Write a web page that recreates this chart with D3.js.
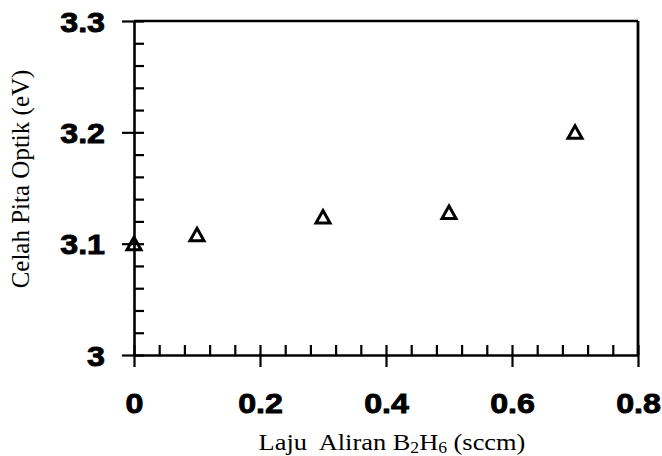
<!DOCTYPE html>
<html>
<head>
<meta charset="utf-8">
<script src="https://cdn.jsdelivr.net/npm/d3@7"></script>
<style>
    html, body { margin: 0; padding: 0; background: #fff; }
    svg { display: block; }
</style>
</head>
<body>
<script>
// data
const flowRates = [0, 0.1, 0.3, 0.5, 0.7];          // sccm B2H6
const bandGaps = [3.1, 3.108, 3.124, 3.128, 3.2];    // eV
const xMajorTicks = [0, 0.2, 0.4, 0.6, 0.8];
const yMajorTicks = [3, 3.1, 3.2, 3.3];
const xTickLabels = ['0', '0.2', '0.4', '0.6', '0.8'];
const yTickLabels = ['3', '3.1', '3.2', '3.3'];

const width = 662;
const height = 456;
const marginLeft = 134;
const marginRight = 24;
const marginTop = 21;
const marginBottom = 101;

const svg = d3.select('body')
    .append('svg')
    .attr('width', width)
    .attr('height', height);

const xScale = d3.scaleLinear()
    .domain([0, 0.8])
    .range([marginLeft, width - marginRight]);

const yScale = d3.scaleLinear()
    .domain([3, 3.3])
    .range([height - marginBottom, marginTop]);

const labelFont = '"Liberation Sans", Arial, sans-serif';
const titleFont = '"Liberation Serif", "Times New Roman", serif';
const stretch = 1.15;

//----------------------------------------------------------------------------
// minor ticks pointing inward
const xMinor = d3.range(0, 0.8001, 0.04);
const yMinor = d3.range(3, 3.3001, 0.02);

svg.append('g')
    .attr('transform', `translate(0, ${yScale(3)})`)
    .call(d3.axisTop(xScale).tickValues(xMinor).tickSize(10).tickSizeOuter(0).tickFormat(''))
    .call(g => g.select('.domain').remove());

svg.append('g')
    .attr('transform', `translate(${xScale(0)}, 0)`)
    .call(d3.axisRight(yScale).tickValues(yMinor).tickSize(10).tickSizeOuter(0).tickFormat(''))
    .call(g => g.select('.domain').remove());

// major ticks with labels, outward
const xAxis = svg.append('g')
    .attr('transform', `translate(0, ${yScale(3)})`)
    .call(d3.axisBottom(xScale)
        .tickValues(xMajorTicks)
        .tickSize(12)
        .tickSizeOuter(0)
        .tickFormat((d, i) => xTickLabels[i]));

xAxis.selectAll('text')
    .attr('y', 38)
    .attr('dy', '0.71em')
    .attr('transform', `scale(${stretch},1)`);

const yAxis = svg.append('g')
    .attr('transform', `translate(${xScale(0)}, 0)`)
    .call(d3.axisLeft(yScale)
        .tickValues(yMajorTicks)
        .tickSize(12)
        .tickSizeOuter(0)
        .tickFormat((d, i) => yTickLabels[i]));

yAxis.selectAll('text')
    .attr('x', -29 / stretch)
    .attr('dy', '0.36em')
    .attr('transform', `scale(${stretch},1)`);

svg.selectAll('.tick text')
    .style('font-family', labelFont)
    .style('font-weight', 'bold')
    .style('font-size', '28px')
    .attr('fill', '#000')
    .attr('stroke', '#000')
    .attr('stroke-width', 0.9);

svg.selectAll('.tick line')
    .attr('stroke', '#000')
    .attr('stroke-width', 2.2);

svg.selectAll('.domain')
    .attr('stroke', '#000')
    .attr('stroke-width', 2.6);

// frame on top and right
svg.append('line')
    .attr('x1', xScale(0)).attr('x2', xScale(0.8))
    .attr('y1', yScale(3.3)).attr('y2', yScale(3.3))
    .attr('stroke', '#000').attr('stroke-width', 2.4);

svg.append('line')
    .attr('x1', xScale(0.8)).attr('x2', xScale(0.8))
    .attr('y1', yScale(3.3)).attr('y2', yScale(3))
    .attr('stroke', '#000').attr('stroke-width', 2.8);

//----------------------------------------------------------------------------
// points (open triangles)
const points = flowRates.map((x, i) => ({ x, y: bandGaps[i] }));

svg.append('g')
    .selectAll('path')
    .data(points)
    .join('path')
    .attr('transform', d => `translate(${xScale(d.x)}, ${yScale(d.y)})`)
    .attr('d', 'M0,-6.5L7,6L-7,6Z')
    .attr('fill', 'none')
    .attr('stroke', '#000')
    .attr('stroke-width', 3)
    .attr('stroke-linejoin', 'miter');

//----------------------------------------------------------------------------
// axis titles
const xTitle = svg.append('text')
    .attr('transform', 'translate(392, 450) scale(1.1,1)')
    .attr('text-anchor', 'middle')
    .style('font-family', titleFont)
    .style('font-size', '24px')
    .style('white-space', 'pre')
    .attr('fill', '#000');

xTitle.append('tspan').text('Laju  Aliran B');
xTitle.append('tspan').attr('dy', 3).style('font-size', '16px').text('2');
xTitle.append('tspan').attr('dy', -3).text('H');
xTitle.append('tspan').attr('dy', 3).style('font-size', '16px').text('6');
xTitle.append('tspan').attr('dy', -3).text(' (sccm)');

svg.append('text')
    .attr('transform', `translate(29, 179) rotate(-90)`)
    .attr('text-anchor', 'middle')
    .style('font-family', titleFont)
    .style('font-size', '25px')
    .attr('fill', '#000')
    .text('Celah Pita Optik (eV)');
</script>
</body>
</html>
